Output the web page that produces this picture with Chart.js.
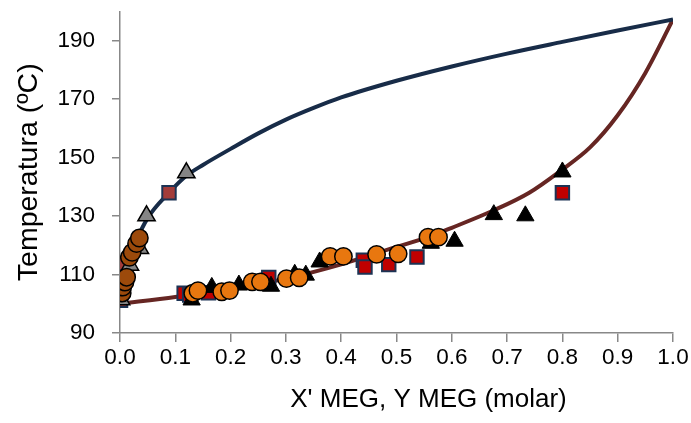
<!DOCTYPE html>
<html>
<head>
<meta charset="utf-8">
<script src="https://cdn.jsdelivr.net/npm/chart.js@4.4.1/dist/chart.umd.min.js"></script>
<style>
  html, body { margin: 0; padding: 0; background: #fff; }
  #wrap { width: 691px; height: 423px; }
</style>
</head>
<body>
<div id="wrap"><canvas id="vle" width="691" height="423"></canvas></div>
<script>
// model curves
const dewX = [0, 0.002, 0.006, 0.014, 0.03, 0.05, 0.0886, 0.12, 0.15, 0.2, 0.25, 0.3, 0.35, 0.4, 0.5, 0.6, 0.7, 0.8, 0.9, 1.0];
const dewT = [100.2, 103.6, 107.5, 112.6, 121.6, 129.3, 138, 143.8, 147.5, 153, 158.3, 163, 167, 170.6, 176.3, 181.2, 185.6, 189.6, 193.5, 197.3];

const bubX = [0, 0.1, 0.2, 0.3, 0.4, 0.47, 0.555, 0.6, 0.675, 0.74, 0.796, 0.85, 0.9, 0.95, 1.0];
const bubT = [100, 102.3, 105, 108.6, 113.5, 117.7, 122.7, 126, 131.9, 138, 145.4, 153.5, 164.5, 179, 197.3];

// experimental points, vapour side
const dewCircX = [0.004, 0.005, 0.009, 0.012, 0.017, 0.022, 0.03, 0.035];
const dewCircT = [103.7, 105.7, 107.4, 109.1, 115.9, 117.6, 120.6, 122.5];
const dewTriX = [0.002, 0.018, 0.036, 0.048, 0.12];
const dewTriT = [101.4, 113.2, 118.9, 130.1, 144.8];
const dewSqX = [0.001, 0.002, 0.0886];
const dewSqT = [101.2, 113.8, 138];

// experimental points, liquid side
const liqCircX = [0.1316, 0.141, 0.184, 0.198, 0.239, 0.254, 0.301, 0.324, 0.38, 0.404, 0.464, 0.503, 0.557, 0.576];
const liqCircT = [103.6, 104.5, 104.1, 104.5, 107.5, 107.5, 108.6, 108.9, 116.2, 116.2, 116.9, 117.1, 122.8, 122.8];
const liqTriX = [0.1295, 0.166, 0.215, 0.273, 0.316, 0.336, 0.361, 0.562, 0.605, 0.676, 0.733, 0.8];
const liqTriT = [101.3, 105.6, 106.4, 106.0, 110.1, 109.8, 114.3, 120.7, 121.4, 130.5, 130.1, 145.1];
const liqSqX = [0.116, 0.126, 0.16, 0.269, 0.44, 0.443, 0.486, 0.537, 0.8];
const liqSqT = [103.6, 103.0, 103.8, 109.0, 114.9, 112.6, 113.4, 116.0, 138.0];

const xTicks = [0, 0.1, 0.2, 0.3, 0.4, 0.5, 0.6, 0.7, 0.8, 0.9, 1.0];
const yTicks = [90, 110, 130, 150, 170, 190];

const xTitle = "X' MEG, Y MEG (molar)";
const yTitle = "Temperatura (ºC)";

function pts(xs, ys) {
  return xs.map((x, i) => ({ x: x, y: ys[i] }));
}

function marker(xs, ys, style, fill, border, bw, r, order) {
  return {
    data: pts(xs, ys),
    showLine: false,
    pointStyle: style,
    pointRadius: r,
    pointBackgroundColor: fill,
    pointBorderColor: border,
    pointBorderWidth: bw,
    order: order,
  };
}

function curve(xs, ys, color) {
  return {
    data: pts(xs, ys),
    showLine: true,
    borderColor: color,
    borderWidth: 4,
    pointRadius: 0,
    cubicInterpolationMode: "monotone",
    order: 10,
  };
}

const axisColor = "#888888";
const font = "'Liberation Sans', Arial, sans-serif";

// the x title in the original sits right of centre, so it is drawn by hand
const xTitlePlugin = {
  id: "xTitle",
  afterDraw(chart) {
    const ctx = chart.ctx;
    const area = chart.chartArea;
    ctx.save();
    ctx.font = "26px " + font;
    ctx.fillStyle = "#000";
    ctx.textAlign = "center";
    ctx.textBaseline = "middle";
    ctx.fillText(xTitle, (area.left + area.right) / 2 + 32, 400);
    ctx.restore();
  },
};

const data = {
  datasets: [
    curve(dewX, dewT, "#182c48"),
    curve(bubX, bubT, "#662623"),
    marker(dewSqX, dewSqT, "rect", "#a33c3a", "#1c3354", 2, 9.5, 5),
    marker(liqSqX, liqSqT, "rect", "#c00000", "#1c3354", 2, 9.5, 5),
    marker(dewTriX, dewTriT, "triangle", "#858585", "#000000", 1.5, 10, 4),
    marker(liqTriX, liqTriT, "triangle", "#000000", "#000000", 1, 10, 4),
    marker(liqCircX, liqCircT, "circle", "#e8770f", "#000000", 1.5, 8.7, 1),
    marker(dewCircX, dewCircT, "circle", "#9c4a0b", "#000000", 1.5, 8.7, 1),
  ],
};

const options = {
  responsive: false,
  animation: false,
  layout: { padding: { left: 0, right: 18, top: 8, bottom: 0 } },
  plugins: {
    legend: { display: false },
    tooltip: { enabled: false },
  },
  scales: {
    x: {
      type: "linear",
      min: 0,
      max: 1,
      afterBuildTicks: (s) => { s.ticks = xTicks.map((v) => ({ value: v })); },
      afterFit: (s) => { s.height = 90; s.paddingLeft = 0; s.paddingRight = 0; },
      ticks: {
        color: "#000",
        font: { family: font, size: 22.5 },
        padding: 2,
        maxRotation: 0,
        callback: (v) => v.toFixed(1),
      },
      grid: { drawOnChartArea: false, drawTicks: true, tickLength: 9, color: axisColor, lineWidth: 1.5 },
      border: { color: axisColor, width: 1.5 },
    },
    y: {
      type: "linear",
      min: 90,
      max: 200,
      afterBuildTicks: (s) => { s.ticks = yTicks.map((v) => ({ value: v })); },
      afterFit: (s) => { s.width = 120; s.paddingTop = 0; s.paddingBottom = 0; },
      ticks: {
        color: "#000",
        font: { family: font, size: 22.5 },
        padding: 17,
      },
      grid: { drawOnChartArea: false, drawTicks: true, tickLength: 8, color: axisColor, lineWidth: 1.5 },
      border: { color: axisColor, width: 1.5 },
      title: {
        display: true,
        text: yTitle,
        color: "#000",
        font: { family: font, size: 28.5 },
        padding: { top: 12, bottom: 0 },
      },
    },
  },
};

const chart = new Chart(document.getElementById("vle").getContext("2d"), {
  type: "scatter",
  data: data,
  options: options,
  plugins: [xTitlePlugin],
});
</script>
</body>
</html>
